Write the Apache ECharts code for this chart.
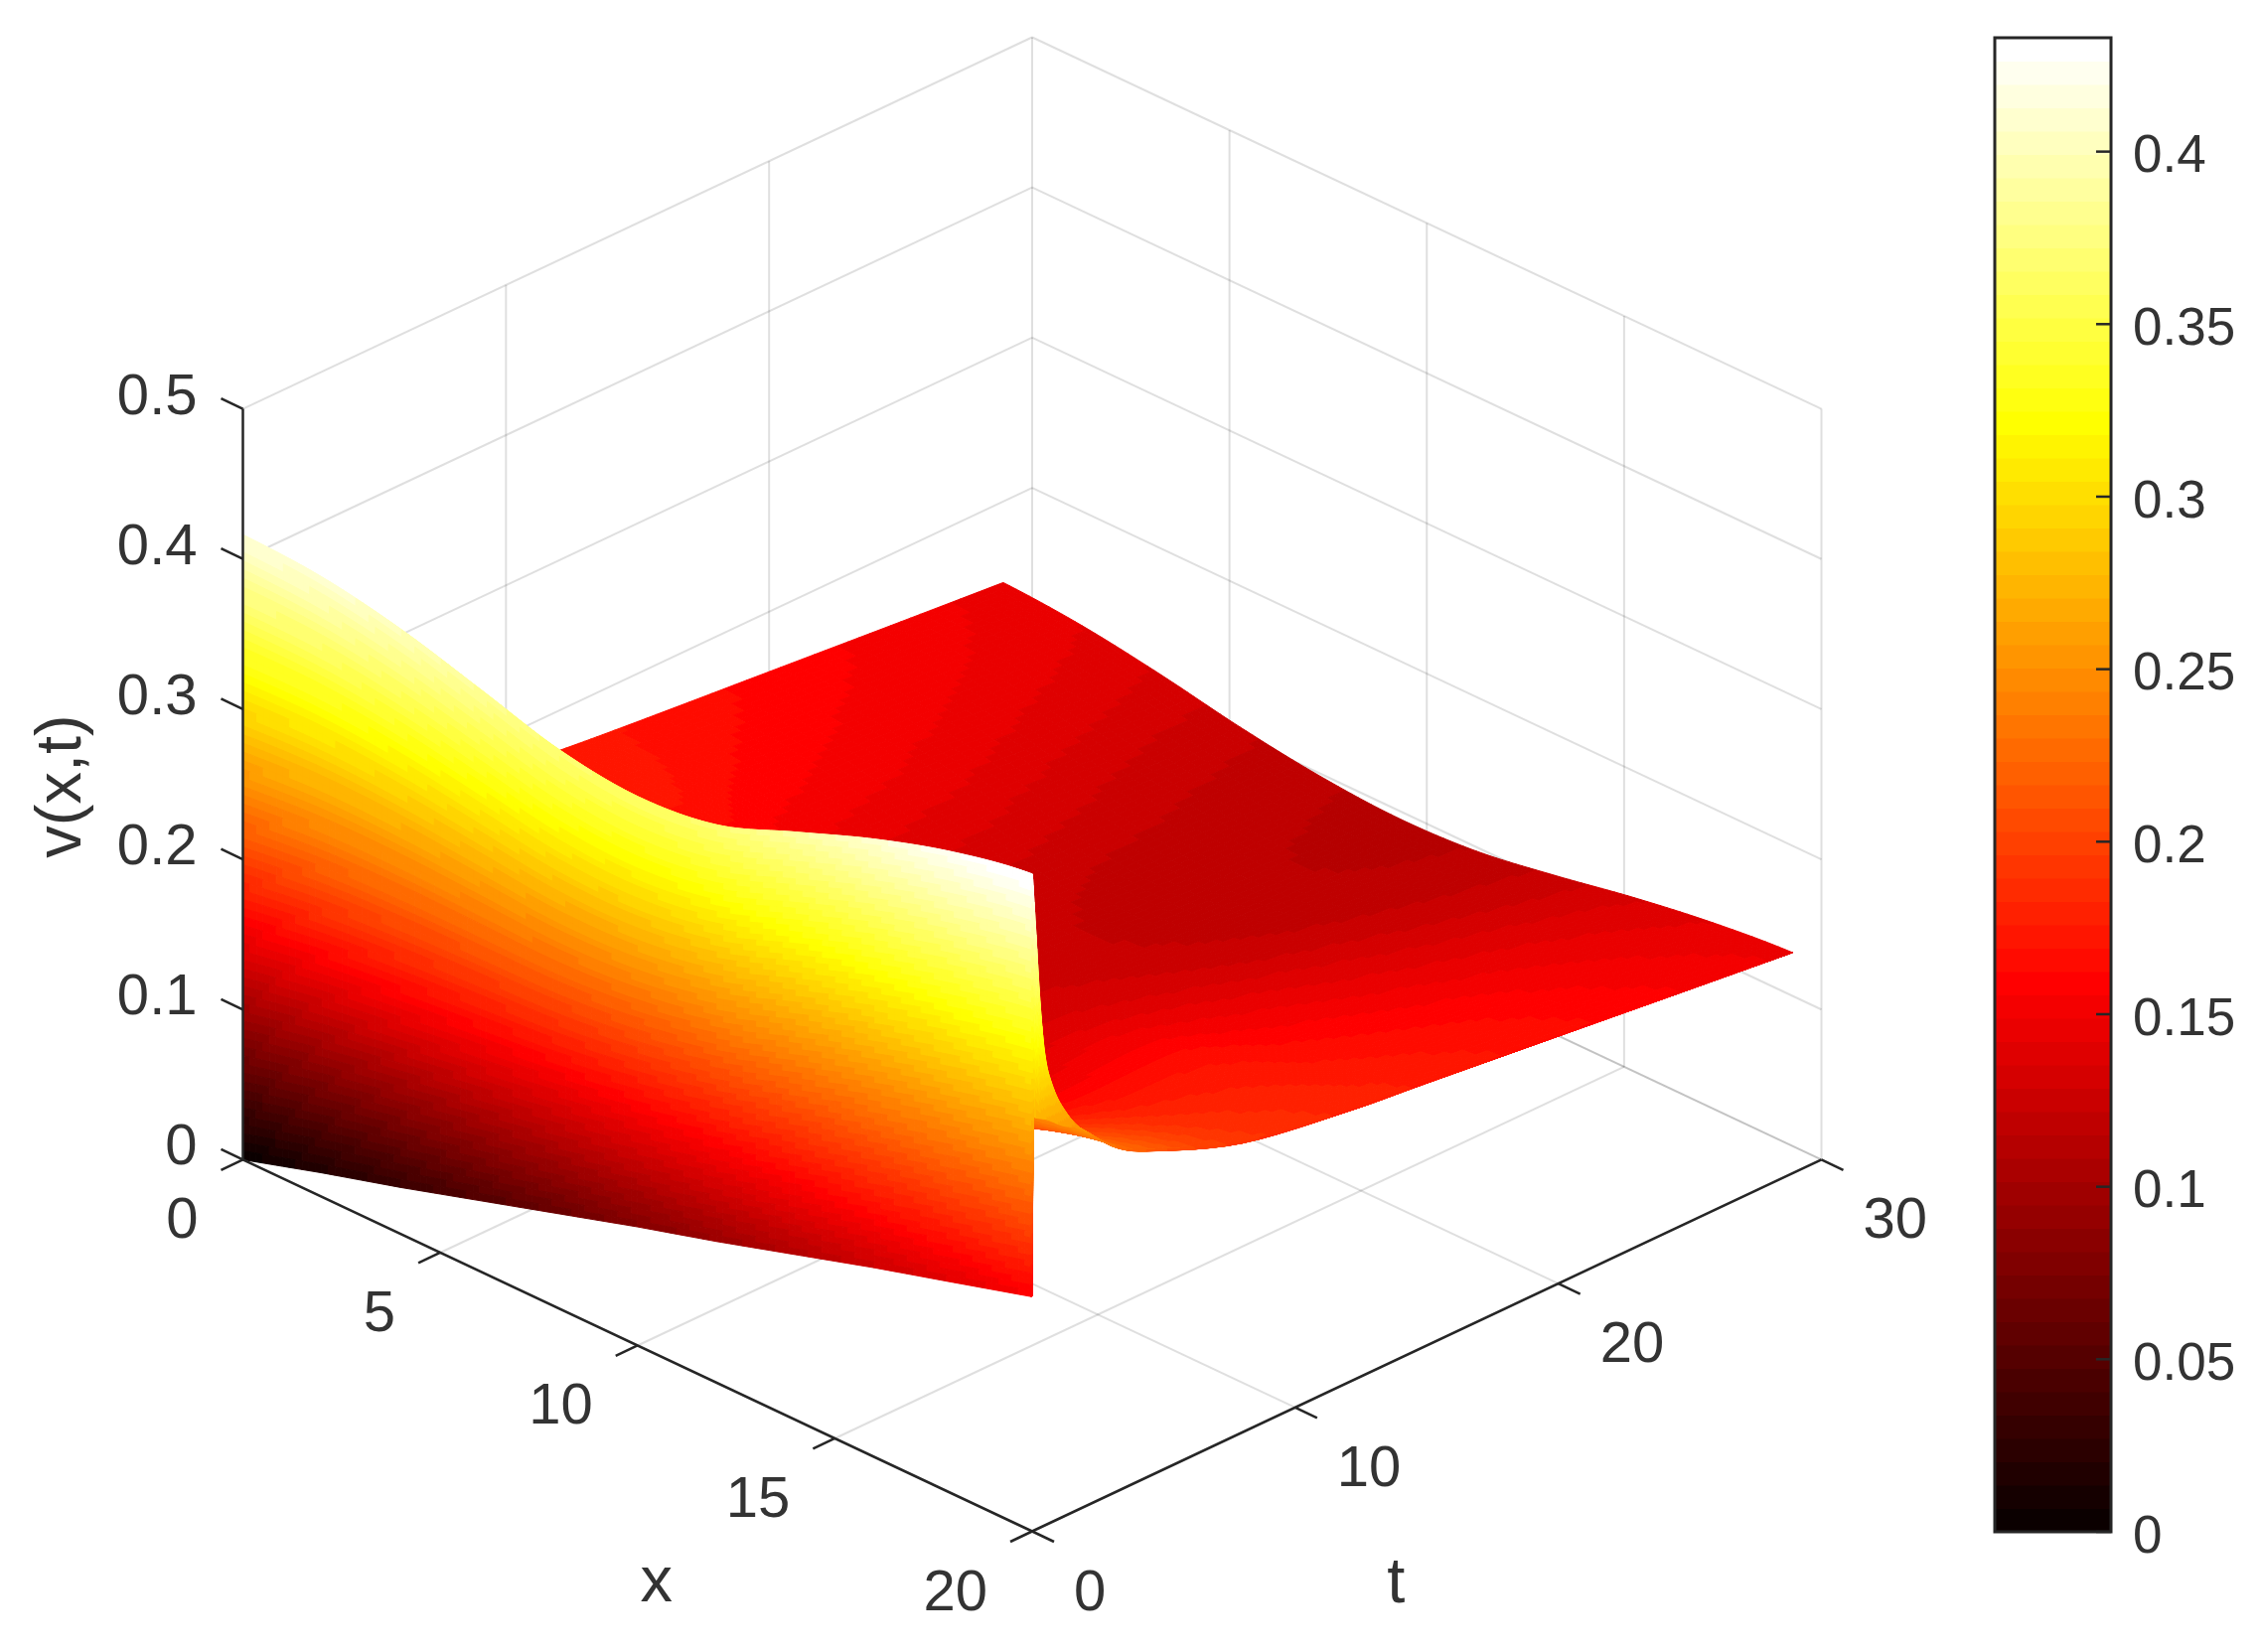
<!DOCTYPE html>
<html>
<head>
<meta charset="utf-8">
<style>html,body{margin:0;padding:0;background:#fff}#c{width:2278px;height:1663px}</style>
<script src="https://cdn.jsdelivr.net/npm/echarts@6/dist/echarts.min.js"></script>
</head>
<body>
<div id="c"></div>
<script>
// ---- tick labels and grids ----
const xTicks = [0, 5, 10, 15, 20];
const tTicks = [0, 10, 20, 30];
const zTicks = [0, 0.1, 0.2, 0.3, 0.4, 0.5];
const barTicks = [0, 0.05, 0.1, 0.15, 0.2, 0.25, 0.3, 0.35, 0.4];
const barMax = 0.433;
const xGrid = [0, 2, 4, 6, 8, 10, 12, 14, 16, 18, 19.98, 20];
const tGrid = [0, 0.04, 0.15, 0.34, 0.53, 0.8, 1.2, 1.9, 3.2, 4.7, 8, 12, 15, 20, 25, 28.9];
// ---- v(x,t), one row per entry of tGrid, one value per entry of xGrid ----
const vT00 = [0, .016, .031, .047, .063, .079, .094, .110, .126, .141, .156, .157];
const vT01 = [.4155, .412, .402, .387, .3715, .365, .371, .391, .411, .427, .437, .276];
const vT02 = [.36, .36, .355, .345, .335, .33, .335, .35, .37, .39, .404, .274];
const vT03 = [.31, .31, .305, .30, .29, .285, .29, .30, .32, .335, .347, .272];
const vT04 = [.28, .28, .275, .265, .255, .25, .255, .265, .285, .30, .311, .27];
const vT05 = [.255, .255, .25, .24, .23, .225, .23, .24, .26, .278, .29, .266];
const vT06 = [.24, .235, .23, .22, .21, .205, .21, .22, .24, .258, .272, .26];
const vT07 = [.225, .22, .212, .20, .19, .185, .19, .20, .22, .24, .252, .252];
const vT08 = [.21, .205, .195, .18, .17, .165, .168, .18, .198, .218, .23, .229];
const vT09 = [.198, .193, .182, .168, .155, .15, .152, .164, .183, .203, .2155, .2145];
const vT10 = [.182, .178, .166, .15, .137, .132, .136, .148, .168, .184, .193, .1925];
const vT11 = [.1734, .173, .163, .148, .135, .129, .136, .151, .166, .175, .181, .1806];
const vT12 = [.168, .164, .154, .14, .13, .126, .133, .146, .158, .168, .175, .1747];
const vT13 = [.160, .155, .147, .134, .122, .119, .124, .136, .148, .159, .165, .1647];
const vT14 = [.152, .148, .139, .127, .119, .115, .118, .128, .14, .149, .155, .1547];
const vT15 = [.146, .142, .134, .124, .1165, .113, .1155, .124, .134, .142, .147, .147];
const vRows = [vT00, vT01, vT02, vT03, vT04, vT05, vT06, vT07, vT08, vT09, vT10, vT11, vT12, vT13, vT14, vT15];
// hot colormap anchor colours
const hotStops = [[0, [0, 0, 0]], [0.375, [255, 0, 0]], [0.75, [255, 255, 0]], [1, [255, 255, 255]]];
const LEVELS = 64;

const INK = '#333333';
const FONT = '"Liberation Sans", Arial, sans-serif';
const colorLevels = [];
for (let i = 0; i < LEVELS; i++) {
  const f = (i + 1) / LEVELS;
  let k = 0;
  while (k < hotStops.length - 2 && f > hotStops[k + 1][0]) k++;
  const a = hotStops[k], b = hotStops[k + 1], s = (f - a[0]) / (b[0] - a[0]);
  colorLevels.push('rgb(' + [0, 1, 2].map(c => Math.round(a[1][c] + (b[1][c] - a[1][c]) * s)).join(',') + ')');
}
const colorOf = v => colorLevels[Math.max(0, Math.min(LEVELS - 1, Math.floor(v / barMax * LEVELS)))];

// oblique view of the box: u runs across the page, w up the page
const Z_UNIT = 2.021;
const project = (x, t, z) => [x / 20 + t / 30, t / 30 - x / 20 + z / 0.5 * Z_UNIT];

// smooth patch through the table (the wall row and the thin last strip stay linear)
const cr = (p0, p1, p2, p3, s) => 0.5 * (2 * p1 + (p2 - p0) * s + (2 * p0 - 5 * p1 + 4 * p2 - p3) * s * s + (3 * p1 - p0 - 3 * p2 + p3) * s * s * s);
function rowAt(r, xi, s) {
  const n = xGrid.length;
  if (xi >= n - 2) return r[xi] + (r[xi + 1] - r[xi]) * s;
  const p1 = r[xi], p2 = r[xi + 1];
  const p0 = xi > 0 ? r[xi - 1] : p1;
  const p3 = xi < n - 3 ? r[xi + 2] : p2;
  return cr(p0, p1, p2, p3, s);
}
function vAt(ti, s, xi, q) {
  if (ti === 0) {
    const bottom = vT00[xi] + (vT00[xi + 1] - vT00[xi]) * q;
    return bottom * (1 - s) + rowAt(vRows[1], xi, q) * s;
  }
  const a = rowAt(vRows[ti], xi, q), b = rowAt(vRows[ti + 1], xi, q);
  const z = ti > 1 ? rowAt(vRows[ti - 1], xi, q) : a;
  const d = ti < vRows.length - 2 ? rowAt(vRows[ti + 2], xi, q) : b;
  return cr(z, a, b, d, s);
}
function tAt(ti, s) {
  if (ti === 0) return tGrid[0] + (tGrid[1] - tGrid[0]) * s;
  const a = tGrid[ti], b = tGrid[ti + 1];
  const z = ti > 1 ? tGrid[ti - 1] : a;
  const d = ti < tGrid.length - 2 ? tGrid[ti + 2] : b;
  return cr(z, a, b, d, s);
}

// far cells first, so nearer cells paint over them
const cells = [];
for (let ti = tGrid.length - 2; ti >= 0; ti--) {
  for (let xi = 0; xi < xGrid.length - 1; xi++) {
    const c = project((xGrid[xi] + xGrid[xi + 1]) / 2, (tGrid[ti] + tGrid[ti + 1]) / 2, 0);
    cells.push([c[0], c[1], ti, xi]);
  }
}
function renderCell(params, api) {
  const ti = api.value(2), xi = api.value(3);
  const lastStrip = xi === xGrid.length - 2;
  const nt = ti === 0 ? 72 : (lastStrip ? 6 : 12);
  const nx = lastStrip ? 24 : 12;
  const children = [];
  const pt = (a, b) => {
    const s = a / nt, q = b / nx;
    const x = xGrid[xi] + (xGrid[xi + 1] - xGrid[xi]) * q;
    const v = vAt(ti, s, xi, q);
    const p = project(x, tAt(ti, s), v);
    return { c: api.coord(p), v };
  };
  for (let a = nt - 1; a >= 0; a--) {
    for (let b = 0; b < nx; b++) {
      const P = [pt(a, b), pt(a, b + 1), pt(a + 1, b + 1), pt(a + 1, b)];
      const col = colorOf((P[0].v + P[1].v + P[2].v + P[3].v) / 4);
      children.push({
        type: 'polygon', silent: true,
        shape: { points: P.map(o => o.c) },
        style: { fill: col, stroke: col, lineWidth: 1 }
      });
    }
  }
  return { type: 'group', children };
}

// box frame: segments given in (x,t,z)
const gridSegs = [];
zTicks.forEach(z => {
  gridSegs.push([0, 0, z, 0, 30, z], [0, 30, z, 20, 30, z]);
});
tTicks.slice(1).forEach(t => gridSegs.push([0, t, 0, 0, t, 0.5]));
xTicks.slice(1).forEach(x => gridSegs.push([x, 30, 0, x, 30, 0.5]));
xTicks.forEach(x => gridSegs.push([x, 0, 0, x, 30, 0]));
tTicks.forEach(t => gridSegs.push([0, t, 0, 20, t, 0]));
const axisSegs = [[0, 0, 0, 20, 0, 0], [20, 0, 0, 20, 30, 0], [0, 0, 0, 0, 0, 0.5]];

function segItem(seg) {
  const a = project(seg[0], seg[1], seg[2]), b = project(seg[3], seg[4], seg[5]);
  return [a[0], a[1], b[0], b[1]];
}
const TICK_DX = 22, TICK_DY = 10.5;
const tickMarks = [];
xTicks.forEach(x => { const p = project(x, 0, 0); tickMarks.push([p[0], p[1], -TICK_DX, TICK_DY]); });
tTicks.forEach(t => { const p = project(20, t, 0); tickMarks.push([p[0], p[1], TICK_DX, TICK_DY]); });
zTicks.forEach(z => { const p = project(0, 0, z); tickMarks.push([p[0], p[1], -TICK_DX, -TICK_DY]); });

const TXT = 58, TITLE = 65;
const labels = [];
xTicks.forEach(x => { const p = project(x, 0, 0); labels.push([p[0], p[1], String(x), -45, 63, 'right', TXT, 0]); });
tTicks.forEach(t => { const p = project(20, t, 0); labels.push([p[0], p[1], String(t), 42, 63, 'left', TXT, 0]); });
zTicks.forEach(z => { const p = project(0, 0, z); labels.push([p[0], p[1], String(z), -46, -11, 'right', TXT, 0]); });
const pX = project(10, 0, 0), pT = project(20, 15, 0), pZ = project(0, 0, 0.25);
labels.push([pX[0], pX[1], 'x', 19, 240, 'center', TITLE, 0]);
labels.push([pT[0], pT[1], 't', -31, 241, 'center', TITLE, 0]);
labels.push([pZ[0], pZ[1], 'v(x,t)', -181, 2, 'center', TITLE, Math.PI / 2]);

const lineRender = (stroke, width) => function (params, api) {
  const a = api.coord([api.value(0), api.value(1)]), b = api.coord([api.value(2), api.value(3)]);
  return { type: 'line', silent: true, shape: { x1: a[0], y1: a[1], x2: b[0], y2: b[1] }, style: { stroke, lineWidth: width } };
};
const hidden = { show: false };
const chart = echarts.init(document.getElementById('c'), null, { renderer: 'canvas' });
chart.setOption({
  animation: false,
  backgroundColor: '#fff',
  grid: [
    { left: 244.5, top: 37.5, width: 1589, height: 1504, show: false },
    { left: 2008, top: 38, width: 117, height: 1504, show: false }
  ],
  xAxis: [
    { gridIndex: 0, type: 'value', min: 0, max: 2, ...hidden },
    { gridIndex: 1, type: 'value', min: 0, max: 1, ...hidden }
  ],
  yAxis: [
    { gridIndex: 0, type: 'value', min: -1, max: 1 + Z_UNIT, ...hidden },
    { gridIndex: 1, type: 'value', min: 0, max: barMax, position: 'right', ...hidden }
  ],
  series: [
    {
      type: 'custom', name: 'grid', xAxisIndex: 0, yAxisIndex: 0, clip: false, silent: true, z: 1,
      data: gridSegs.map(segItem), encode: { x: 0, y: 1 }, progressive: 0,
      renderItem: lineRender('rgba(38,38,38,0.15)', 2)
    },
    {
      type: 'custom', name: 'v(x,t)', xAxisIndex: 0, yAxisIndex: 0, clip: false, silent: true, z: 2,
      data: cells, encode: { x: 0, y: 1 }, progressive: 0,
      renderItem: renderCell
    },
    {
      type: 'custom', name: 'axes', xAxisIndex: 0, yAxisIndex: 0, clip: false, silent: true, z: 3,
      data: axisSegs.map(segItem), encode: { x: 0, y: 1 }, progressive: 0,
      renderItem: lineRender('#262626', 2.5)
    },
    {
      type: 'custom', name: 'ticks', xAxisIndex: 0, yAxisIndex: 0, clip: false, silent: true, z: 3,
      data: tickMarks, encode: { x: 0, y: 1 }, progressive: 0,
      renderItem(params, api) {
        const a = api.coord([api.value(0), api.value(1)]);
        return { type: 'line', silent: true, shape: { x1: a[0], y1: a[1], x2: a[0] + api.value(2), y2: a[1] + api.value(3) }, style: { stroke: '#262626', lineWidth: 2.5 } };
      }
    },
    {
      type: 'custom', name: 'labels', xAxisIndex: 0, yAxisIndex: 0, clip: false, silent: true, z: 4,
      data: labels.map(l => [l[0], l[1]]), encode: { x: 0, y: 1 }, progressive: 0,
      renderItem(params, api) {
        const l = labels[params.dataIndex];
        const a = api.coord([l[0], l[1]]);
        return {
          type: 'text', silent: true, x: a[0] + l[3], y: a[1] + l[4], rotation: l[7],
          style: { text: l[2], align: l[5], verticalAlign: 'middle', fill: INK, font: l[6] + 'px ' + FONT }
        };
      }
    },
    {
      type: 'custom', name: 'colorbar', xAxisIndex: 1, yAxisIndex: 1, clip: false, silent: true, z: 2,
      data: colorLevels.map((c, i) => [0, barMax * (i + 0.5) / LEVELS]), progressive: 0, encode: { x: 0, y: 1 },
      renderItem(params, api) {
        const i = params.dataIndex;
        const a = api.coord([0, barMax * (i + 1) / LEVELS]), b = api.coord([1, barMax * i / LEVELS]);
        return {
          type: 'rect', silent: true,
          shape: { x: a[0], y: a[1], width: b[0] - a[0], height: b[1] - a[1] + 0.6 },
          style: { fill: colorLevels[i] }
        };
      }
    },
    {
      type: 'custom', name: 'colorbarTicks', xAxisIndex: 1, yAxisIndex: 1, clip: false, silent: true, z: 3,
      data: barTicks.map(v => [1, v]), progressive: 0, encode: { x: 0, y: 1 },
      renderItem(params, api) {
        const v = api.value(1);
        const a = api.coord([1, v]);
        return {
          type: 'group', children: [
            { type: 'line', silent: true, shape: { x1: a[0] - 15, y1: a[1], x2: a[0], y2: a[1] }, style: { stroke: '#262626', lineWidth: 2.5 } },
            { type: 'text', silent: true, x: a[0] + 22, y: a[1] + 6, style: { text: String(v), align: 'left', verticalAlign: 'middle', fill: INK, font: '53px ' + FONT } }
          ]
        };
      }
    },
    {
      type: 'custom', name: 'colorbarFrame', xAxisIndex: 1, yAxisIndex: 1, clip: false, silent: true, z: 3,
      data: [[0, 0]], progressive: 0, encode: { x: 0, y: 1 },
      renderItem(params, api) {
        const a = api.coord([0, barMax]), b = api.coord([1, 0]);
        return {
          type: 'rect', silent: true,
          shape: { x: a[0], y: a[1], width: b[0] - a[0], height: b[1] - a[1] },
          style: { fill: 'none', stroke: '#262626', lineWidth: 3 }
        };
      }
    }
  ]
});
</script>
</body>
</html>
